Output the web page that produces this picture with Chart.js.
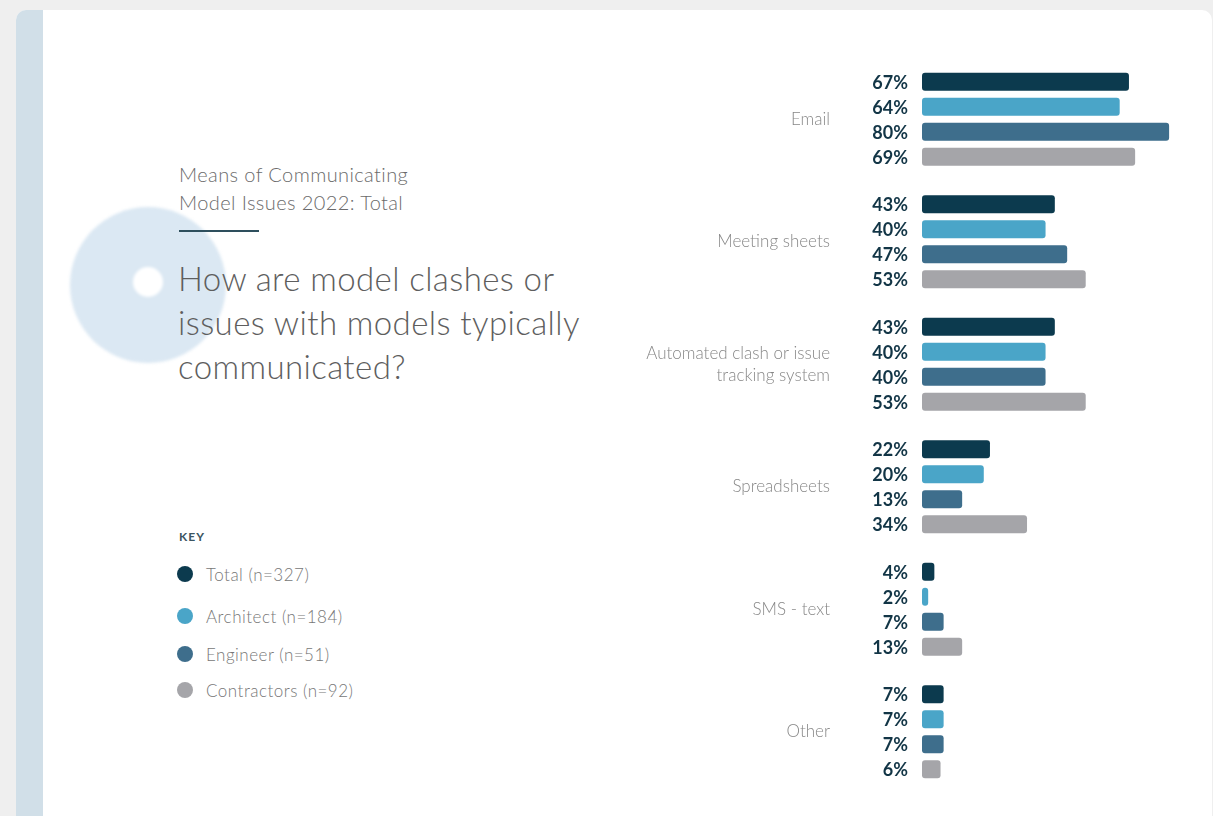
<!DOCTYPE html>
<html>
<head>
<meta charset="utf-8">
<script src="https://cdn.jsdelivr.net/npm/chart.js@4/dist/chart.umd.min.js"></script>
<style>
  html, body { margin: 0; padding: 0; }
  body { width: 1213px; height: 816px; background: #efefef; overflow: hidden; position: relative; font-family: "Lato", "Open Sans", sans-serif; }
  .card { position: absolute; left: 16px; top: 10px; width: 1196px; height: 900px; background: #ffffff; border-radius: 10px; overflow: hidden; }
  .band { position: absolute; left: 0; top: 0; width: 27px; height: 100%; background: #d1dfe8; }
  .disc { position: absolute; left: 70px; top: 207px; width: 156px; height: 156px; border-radius: 50%; background: #dbe8f3; filter: blur(1.5px); }
  .hole { position: absolute; left: 133px; top: 267px; width: 30px; height: 30px; border-radius: 50%; background: #ffffff; filter: blur(1.5px); }
  .kicker { position: absolute; left: 179px; top: 160px; font-size: 20px; letter-spacing: 0.4px; line-height: 28px; color: #6b6b6b; font-weight: 300; }
  .rule { position: absolute; left: 179px; top: 230px; width: 80px; height: 2px; background: #2e4f5d; }
  .question { position: absolute; left: 178px; top: 256px; font-size: 33px; letter-spacing: 0.4px; line-height: 44px; color: #5e5e5e; font-weight: 300; }
  .key { position: absolute; left: 179px; top: 529px; font-size: 12px; font-weight: 700; letter-spacing: 1px; color: #3c5561; }
  .item { position: absolute; left: 177px; height: 20px; display: flex; align-items: center; font-size: 17px; letter-spacing: 0.5px; color: #777777; font-weight: 300; }
  .dot { width: 16px; height: 16px; border-radius: 50%; margin-right: 13px; }
  #chart { position: absolute; left: 600px; top: 47px; }
</style>
</head>
<body>
<div class="card"><div class="band"></div></div>
<div class="disc"></div>
<div class="hole"></div>
<div class="kicker">Means of Communicating<br>Model Issues 2022: Total</div>
<div class="rule"></div>
<div class="question">How are model clashes or<br>issues with models typically<br>communicated?</div>
<div class="key">KEY</div>
<div id="legend"></div>
<canvas id="chart" width="600" height="757"></canvas>
<script>
// Survey answers: share of respondents (%) per communication channel
const categories = ['Email', 'Meeting sheets', ['Automated clash or issue', 'tracking system'], 'Spreadsheets', 'SMS - text', 'Other'];
const seriesNames = ['Total (n=327)', 'Architect (n=184)', 'Engineer (n=51)', 'Contractors (n=92)'];
const seriesColors = ['#0c3a4e', '#4aa5c8', '#3e6e8c', '#a5a5a9'];
const total = [67, 43, 43, 22, 4, 7];
const architect = [64, 40, 40, 20, 2, 7];
const engineer = [80, 47, 40, 13, 7, 7];
const contractors = [69, 53, 53, 34, 13, 6];
const seriesValues = [total, architect, engineer, contractors];

// Key on the left
const legendEl = document.getElementById('legend');
const legendTops = [564, 606, 644, 680];
seriesNames.forEach((name, i) => {
  const item = document.createElement('div');
  item.className = 'item';
  item.style.top = legendTops[i] + 'px';
  const dot = document.createElement('span');
  dot.className = 'dot';
  dot.style.background = seriesColors[i];
  item.appendChild(dot);
  item.appendChild(document.createTextNode(name));
  legendEl.appendChild(item);
});

// Percent labels placed just left of each bar
const valueLabels = {
  id: 'valueLabels',
  afterDatasetsDraw(chart) {
    const ctx = chart.ctx;
    ctx.save();
    ctx.font = '700 18px Lato, "Open Sans", sans-serif';
    ctx.fillStyle = '#123546';
    ctx.textAlign = 'right';
    ctx.textBaseline = 'middle';
    chart.data.datasets.forEach((ds, di) => {
      chart.getDatasetMeta(di).data.forEach((bar, i) => {
        ctx.fillText(ds.data[i] + '%', chart.chartArea.left - 14, bar.y + 1);
      });
    });
    ctx.restore();
  }
};

new Chart(document.getElementById('chart'), {
  type: 'bar',
  data: {
    labels: categories,
    datasets: seriesValues.map((vals, i) => ({
      label: seriesNames[i],
      data: vals,
      backgroundColor: seriesColors[i],
      borderRadius: 3,
      borderSkipped: false,
      categoryPercentage: 0.817,
      barPercentage: 0.72
    }))
  },
  options: {
    indexAxis: 'y',
    responsive: false,
    animation: false,
    layout: { padding: 0 },
    plugins: { legend: { display: false }, tooltip: { enabled: false } },
    scales: {
      x: { min: 0, max: 90, display: false },
      y: {
        // tick marks are hidden but their length keeps the labels clear of the percentages
        grid: { display: false, drawTicks: true, tickLength: 92 },
        border: { display: false },
        afterFit(scale) { scale.width = 322; },
        ticks: {
          color: '#878787',
          padding: 0,
          font: { family: 'Lato, "Open Sans", sans-serif', size: 17, weight: 300, lineHeight: 1.3 }
        }
      }
    }
  },
  plugins: [valueLabels]
});
</script>
</body>
</html>
